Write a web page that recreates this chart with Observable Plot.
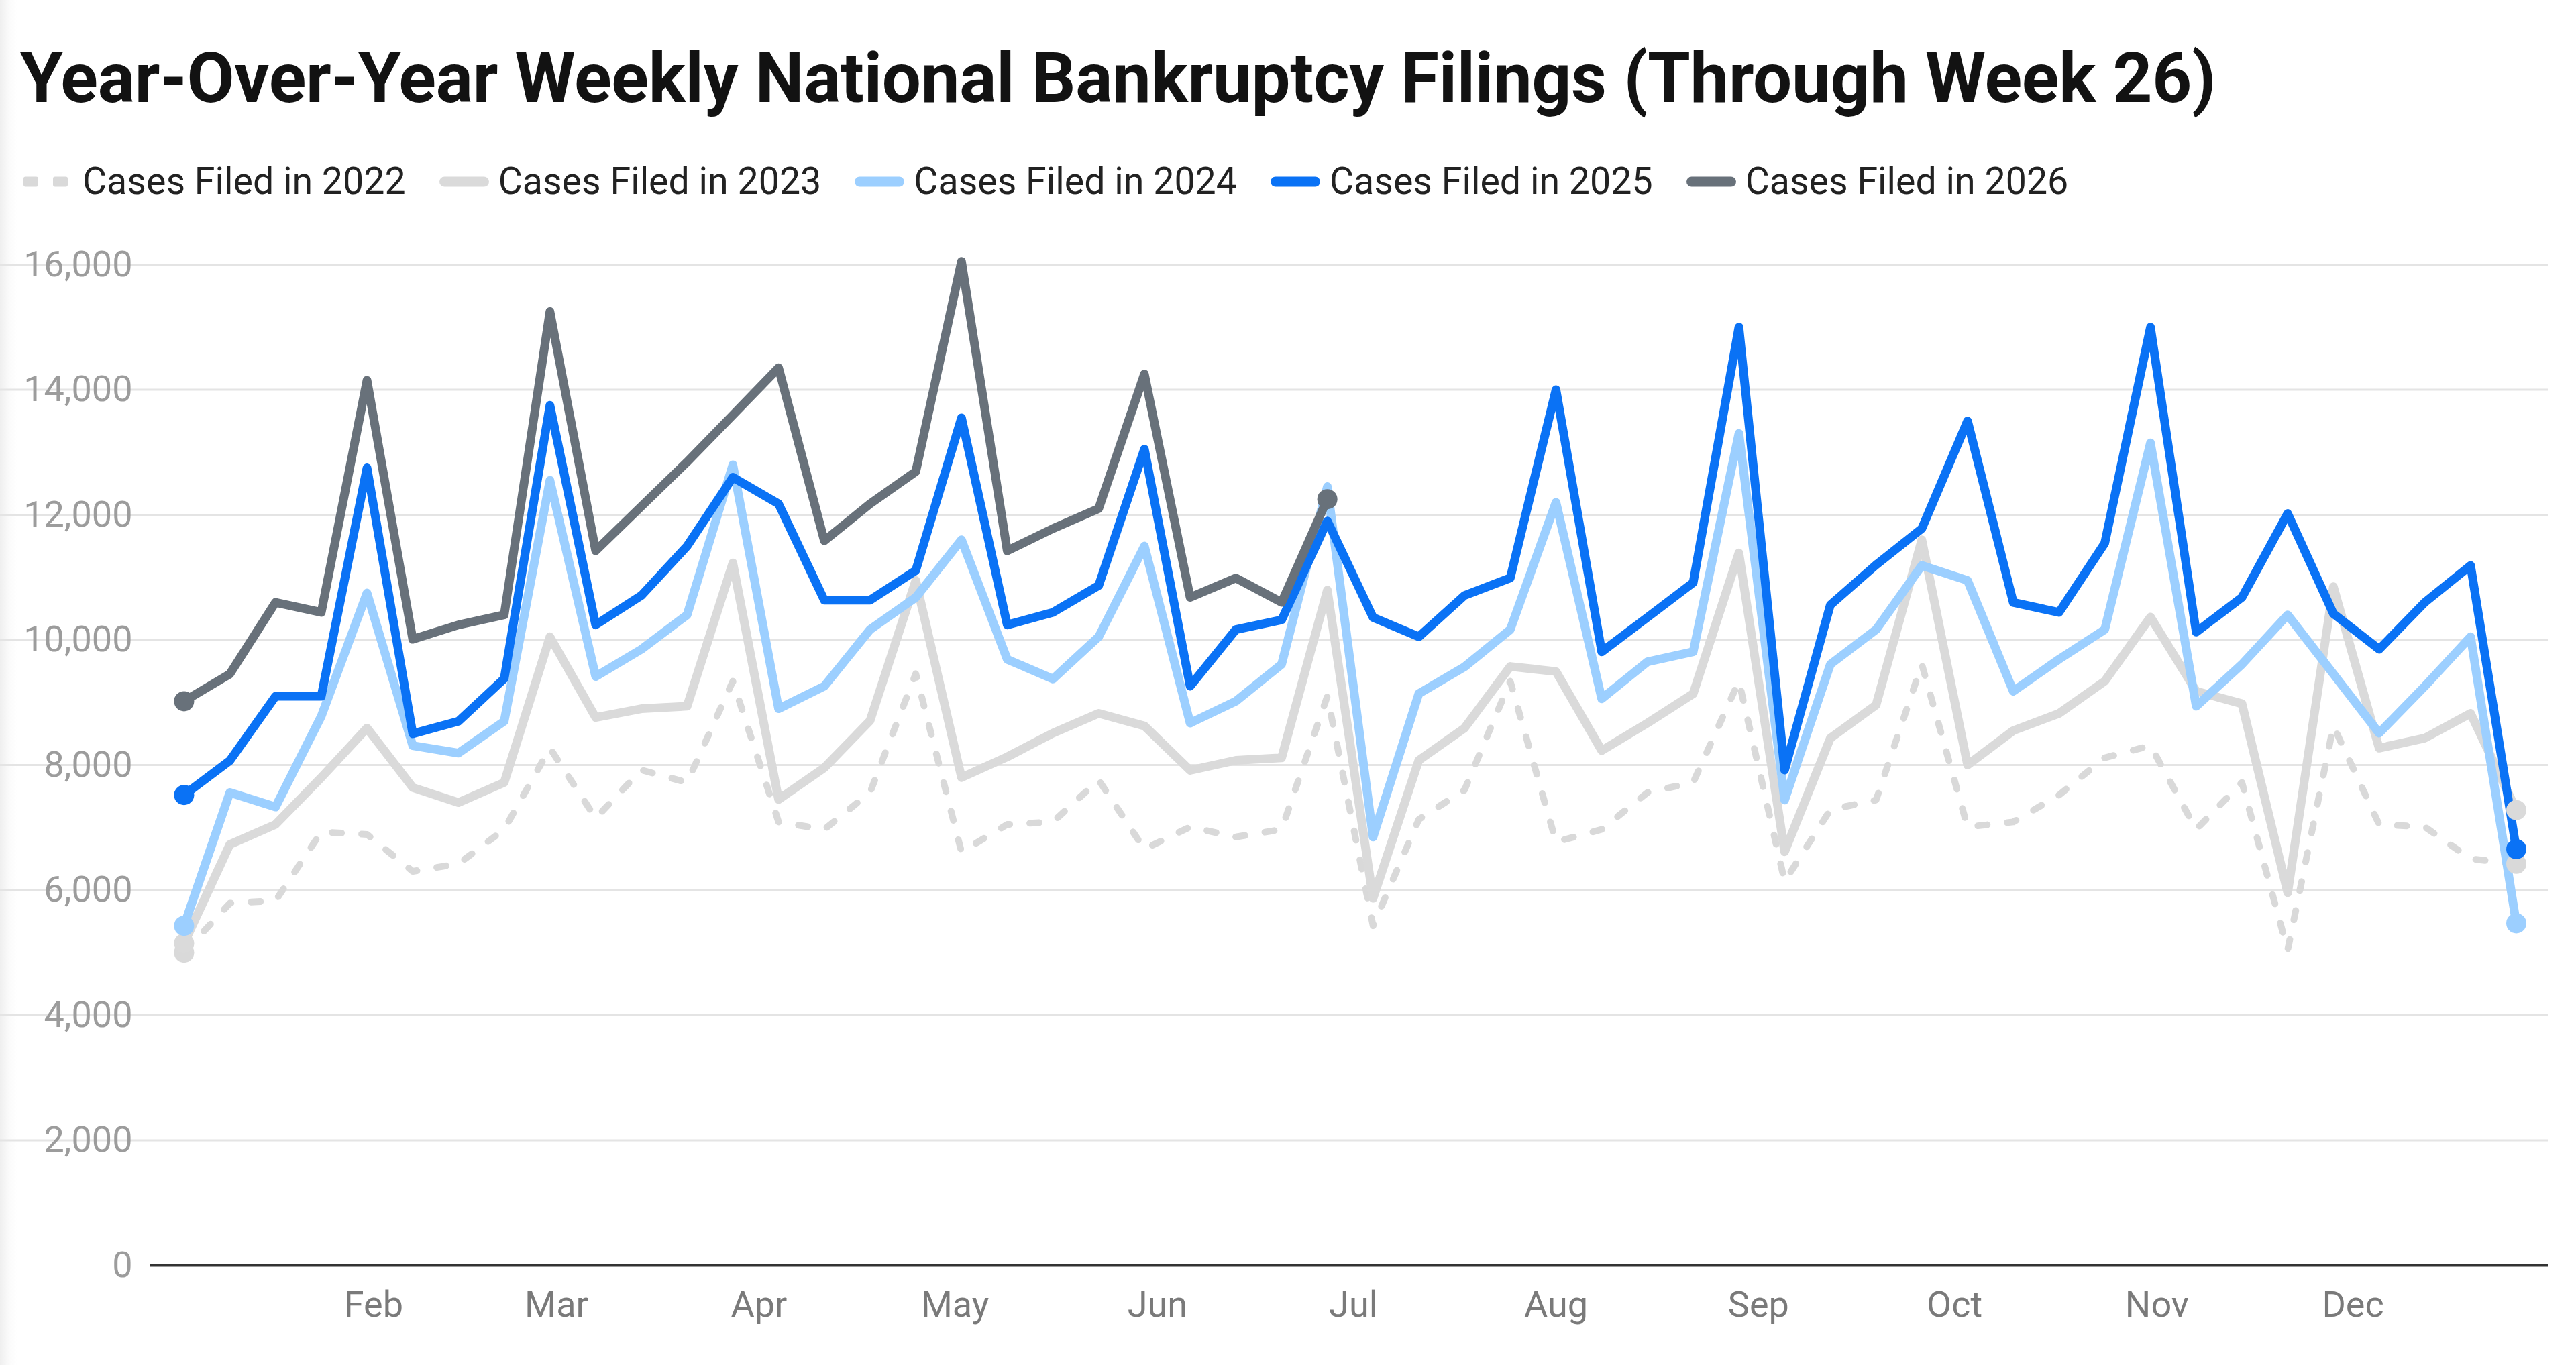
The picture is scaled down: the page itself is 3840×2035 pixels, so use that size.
<!DOCTYPE html>
<html>
<head>
<meta charset="utf-8">
<script src="https://cdn.jsdelivr.net/npm/d3@7"></script>
<script src="https://cdn.jsdelivr.net/npm/@observablehq/plot@0.6"></script>
<style>
  html, body { margin: 0; padding: 0; }
  body {
    width: 3840px; height: 2035px; position: relative; overflow: hidden;
    background: linear-gradient(to right, #efefef 0px, #fbfbfb 14px, #ffffff 26px);
    font-family: Roboto, "Noto Sans", sans-serif;
  }
  #title {
    position: absolute; left: 30px; top: 65px; margin: 0;
    font-size: 103px; line-height: 1; font-weight: 700; color: #121212;
    white-space: nowrap; letter-spacing: -0.2px;
  }
  #legend {
    position: absolute; left: 35px; top: 243px; display: flex; align-items: center; gap: 50px;
  }
  .item { display: flex; align-items: center; }
  .item svg { margin-right: 14px; display: block; }
  .item span { font-size: 55.5px; line-height: 1; color: #222; white-space: nowrap; }
  #chart { position: absolute; left: 0; top: 330px; }
</style>
</head>
<body>
<h1 id="title">Year-Over-Year Weekly National Bankruptcy Filings (Through Week 26)</h1>
<div id="legend"></div>
<div id="chart"></div>
<script>
// ---------- data ----------
const weeks = d3.range(1, 53); // week numbers 1..52
const monthLabels = ["Feb","Mar","Apr","May","Jun","Jul","Aug","Sep","Oct","Nov","Dec"];
const yTicks = [0, 2000, 4000, 6000, 8000, 10000, 12000, 14000, 16000];

const seriesNames = ["Cases Filed in 2022","Cases Filed in 2023","Cases Filed in 2024","Cases Filed in 2025","Cases Filed in 2026"];

const cases2022 = [5000,5790,5830,6930,6890,6300,6420,6970,8270,7150,7920,7720,9340,7090,6970,7560,9460,6610,7050,7090,7760,6655,7010,6850,6970,9100,5430,7130,7600,9340,6770,6970,7560,7720,9340,6140,7285,7440,9610,7010,7090,7520,8115,8310,6970,7720,5040,8625,7050,7010,6500,6420];
const cases2023 = [5150,6730,7050,7800,8590,7640,7400,7720,10050,8760,8900,8940,11230,7450,7956,8707,10950,7800,8130,8510,8825,8625,7915,8075,8115,10795,5870,8075,8590,9575,9495,8230,8670,9140,11390,6615,8430,8960,11600,8000,8550,8825,9340,10365,9180,8980,5960,10850,8270,8430,8825,7280];
const cases2024 = [5430,7560,7330,8780,10750,8310,8190,8700,12550,9415,9850,10400,12800,8900,9260,10165,10680,11600,9690,9375,10050,11500,8670,9020,9610,12450,6850,9140,9570,10165,12200,9060,9650,9810,13300,7440,9610,10165,11190,10950,9180,9690,10165,13150,8940,9610,10400,9455,8510,9260,10050,5470];
const cases2025 = [7520,8070,9100,9100,12750,8500,8700,9380,13750,10240,10710,11500,12600,12175,10635,10635,11110,13550,10240,10440,10870,13050,9260,10165,10320,11900,10360,10050,10710,10990,14000,9810,10360,10915,15000,7920,10560,11200,11780,13500,10600,10440,11545,15000,10125,10680,12020,10420,9850,10600,11190,6655];
const cases2026 = [9020,9455,10600,10440,14150,10010,10240,10400,15250,11425,12135,12845,13595,14350,11585,12175,12690,16050,11425,11780,12100,14250,10680,10990,10600,12250];

// ---------- styles ----------
const colors = ["#d9d9d9", "#dadada", "#9ccfff", "#0a72f5", "#68717a"];
const dashes = ["14,30", null, null, null, null];

// week number -> calendar position on a reference year
const weekDate = w => new Date(Date.UTC(2025, 0, 3 + 7 * (w - 1)));

const allSeries = [cases2022, cases2023, cases2024, cases2025, cases2026];
const rows = allSeries.flatMap((vals, s) =>
  vals.map((v, i) => ({ series: seriesNames[s], week: weeks[i], date: weekDate(weeks[i]), value: v }))
);
const ends = allSeries.flatMap((vals, s) => {
  const r = rows.filter(d => d.series === seriesNames[s]);
  return [r[0], r[r.length - 1]];
});

const monthTicks = d3.utcMonth.range(new Date(Date.UTC(2025, 1, 1)), new Date(Date.UTC(2025, 11, 2)));

// ---------- legend ----------
const legend = d3.select("#legend");
seriesNames.forEach((name, i) => {
  const item = legend.append("div").attr("class", "item");
  const svg = item.append("svg").attr("width", 74).attr("height", 20);
  if (dashes[i]) {
    svg.append("rect").attr("x", 0).attr("y", 2.5).attr("width", 22).attr("height", 15).attr("rx", 3).attr("fill", colors[i]);
    svg.append("rect").attr("x", 44).attr("y", 2.5).attr("width", 22).attr("height", 15).attr("rx", 3).attr("fill", colors[i]);
  } else {
    svg.append("line").attr("x1", 7.5).attr("x2", 66.5).attr("y1", 10).attr("y2", 10)
      .attr("stroke", colors[i]).attr("stroke-width", 15).attr("stroke-linecap", "round");
  }
  item.append("span").text(name);
});

// ---------- chart ----------
const lineMarks = seriesNames.map((name, i) =>
  Plot.line(rows.filter(d => d.series === name), {
    x: "date", y: "value", stroke: colors[i],
    strokeWidth: dashes[i] ? 10 : 13,
    strokeDasharray: dashes[i] || undefined,
    strokeLinejoin: "round", strokeLinecap: "round"
  })
);
const dotMarks = seriesNames.map((name, i) =>
  Plot.dot(ends.filter(d => d.series === name), { x: "date", y: "value", r: 15, fill: colors[i], stroke: "none" })
);

const chart = Plot.plot({
  width: 3840,
  height: 1705,
  marginLeft: 224,
  marginRight: 42,
  marginTop: 64,
  marginBottom: 149,
  style: { fontFamily: "Roboto, sans-serif", background: "transparent", overflow: "visible" },
  x: { type: "utc", domain: [new Date(Date.UTC(2024, 11, 28, 21)), new Date(Date.UTC(2025, 11, 30, 21))] },
  y: { domain: [0, 16000] },
  marks: [
    Plot.gridY(yTicks.filter(t => t > 0), { stroke: "#e4e4e4", strokeOpacity: 1, strokeWidth: 3, x1: 228 }),
    Plot.axisY(yTicks, { tickSize: 0, tickPadding: 27, fontSize: 54, fill: "#9c9c9c", tickFormat: d3.format(","), label: null }),
    Plot.axisX(monthTicks, { tickSize: 0, tickPadding: 38, fontSize: 54, fill: "#7a7a7a",
      tickFormat: (d, i) => monthLabels[i], label: null }),
    Plot.ruleY([0], { stroke: "#333", strokeWidth: 4 }),
    ...lineMarks,
    ...dotMarks
  ]
});
document.getElementById("chart").appendChild(chart);
</script>
</body>
</html>
